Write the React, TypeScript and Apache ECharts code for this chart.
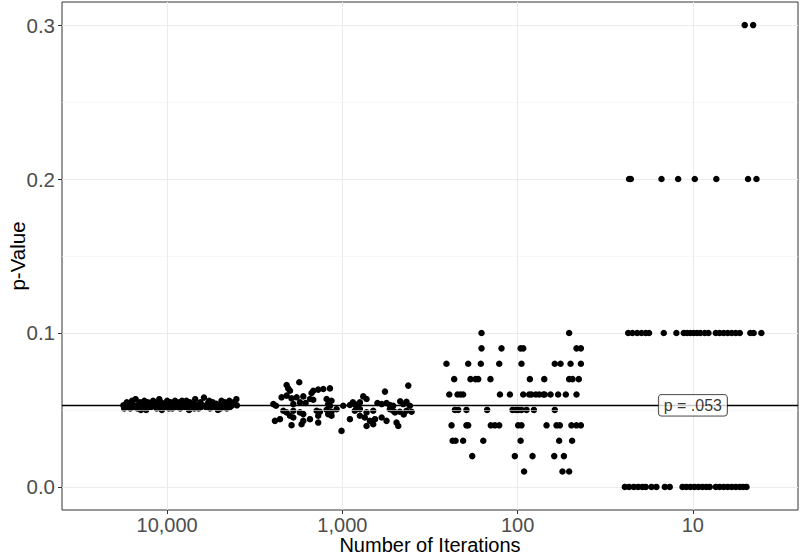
import React, { useEffect, useRef } from 'react';
import * as echarts from 'echarts';

// ---- Data ----
const categories = ['10,000', '1,000', '100', '10'];
const categoryPositions = [1, 2, 3, 4];
const yTicks = [0, 0.1, 0.2, 0.3];
const yMinorTicks = [0.05, 0.15, 0.25];
const referenceP = 0.053;
const referenceLabel = 'p = .053';

// jittered x (category index + jitter), p-value
const iter10000: number[][] = [
  [0.75, 0.053], [0.755, 0.051], [0.77, 0.055], [0.775, 0.052], [0.79, 0.054], [0.80, 0.056], [0.805, 0.052],
  [0.81, 0.053], [0.82, 0.057], [0.83, 0.051], [0.84, 0.054], [0.845, 0.055], [0.86, 0.052], [0.87, 0.056],
  [0.875, 0.053], [0.88, 0.050], [0.89, 0.055], [0.90, 0.054], [0.91, 0.052], [0.92, 0.056], [0.925, 0.053],
  [0.94, 0.051], [0.95, 0.055], [0.955, 0.057], [0.96, 0.053], [0.97, 0.050], [0.98, 0.054], [0.99, 0.052],
  [1.00, 0.056], [1.005, 0.053], [1.02, 0.055], [1.03, 0.051], [1.04, 0.054], [1.05, 0.052], [1.06, 0.053],
  [1.07, 0.055], [1.075, 0.051], [1.09, 0.054], [1.10, 0.052], [1.11, 0.056], [1.12, 0.053], [1.125, 0.050],
  [1.13, 0.055], [1.14, 0.052], [1.15, 0.054], [1.16, 0.057], [1.17, 0.053], [1.18, 0.051], [1.19, 0.055],
  [1.20, 0.053], [1.21, 0.058], [1.22, 0.052], [1.23, 0.054], [1.24, 0.056], [1.245, 0.051], [1.25, 0.053],
  [1.26, 0.055], [1.27, 0.052], [1.28, 0.054], [1.29, 0.050], [1.30, 0.053], [1.31, 0.056], [1.32, 0.052],
  [1.33, 0.055], [1.34, 0.051], [1.35, 0.054], [1.36, 0.052], [1.37, 0.053], [1.38, 0.055], [1.395, 0.057],
  [1.398, 0.053], [0.79, 0.051], [0.85, 0.050], [0.93, 0.055], [1.01, 0.051], [1.085, 0.056], [1.155, 0.051],
  [1.235, 0.053], [1.305, 0.051], [1.355, 0.056], [0.895, 0.052], [1.045, 0.056], [1.195, 0.052], [0.965, 0.055],
];

const iter1000: number[][] = [
  [1.754, 0.068], [1.682, 0.0662], [1.691, 0.064], [1.701, 0.0625], [2.376, 0.0658], [1.929, 0.064],
  [1.891, 0.0636], [1.862, 0.0632], [1.834, 0.0625], [1.824, 0.061], [2.243, 0.0619], [1.653, 0.0582],
  [1.682, 0.0593], [1.710, 0.0575], [1.739, 0.0582], [1.777, 0.0588], [1.815, 0.0571], [1.834, 0.0566],
  [2.119, 0.0588], [2.138, 0.0571], [1.910, 0.0571], [1.938, 0.056], [1.606, 0.0538], [1.621, 0.0527],
  [1.720, 0.0538], [1.758, 0.0549], [1.919, 0.0538], [1.929, 0.0527], [2.005, 0.0527], [2.043, 0.0532],
  [2.071, 0.0538], [2.081, 0.0516], [2.100, 0.0549], [2.224, 0.0538], [2.252, 0.0545], [2.271, 0.0532],
  [2.290, 0.0527], [2.347, 0.0538], [2.366, 0.0553], [2.385, 0.0527], [1.663, 0.0495], [1.682, 0.0484],
  [1.720, 0.0495], [1.758, 0.0484], [1.777, 0.0473], [1.853, 0.0495], [1.872, 0.0488], [1.910, 0.0501],
  [1.938, 0.0488], [1.967, 0.0505], [2.071, 0.0495], [2.100, 0.0505], [2.138, 0.0484], [2.176, 0.0495],
  [2.271, 0.0505], [2.290, 0.0495], [2.300, 0.0484], [2.328, 0.0488], [2.366, 0.0495], [2.395, 0.0488],
  [1.615, 0.0429], [1.644, 0.044], [1.701, 0.0462], [1.720, 0.0451], [1.777, 0.0429], [1.815, 0.044],
  [1.862, 0.0462], [1.919, 0.0473], [1.938, 0.0462], [2.043, 0.044], [2.100, 0.0462], [2.128, 0.0451],
  [2.157, 0.0429], [2.186, 0.044], [2.224, 0.0451], [2.252, 0.0429], [1.710, 0.0401], [1.767, 0.0407],
  [1.862, 0.0418], [2.309, 0.0418], [2.319, 0.0396], [1.995, 0.0364], [2.138, 0.0396], [2.176, 0.0407],
  [2.20, 0.0545], [2.33, 0.0556], [2.06, 0.0549], [1.79, 0.0545], [2.35, 0.0470],
];

const iter100: number[][] = [
  [2.794, 0.10], [3.294, 0.10],
  [2.794, 0.09], [2.908, 0.09], [3.017, 0.09], [3.032, 0.09], [3.336, 0.09], [3.361, 0.09],
  [2.594, 0.08], [2.718, 0.08], [2.790, 0.08], [2.895, 0.08], [3.022, 0.08], [3.212, 0.08], [3.245, 0.08],
  [3.302, 0.08], [3.361, 0.08],
  [2.638, 0.07], [2.731, 0.07], [2.760, 0.07], [2.775, 0.07], [2.845, 0.07], [3.070, 0.07], [3.152, 0.07],
  [3.294, 0.07], [3.313, 0.07], [3.349, 0.07],
  [2.610, 0.06], [2.657, 0.06], [2.674, 0.06], [2.689, 0.06], [2.899, 0.06], [2.956, 0.06], [3.032, 0.06],
  [3.066, 0.06], [3.079, 0.06], [3.104, 0.06], [3.123, 0.06], [3.146, 0.06], [3.155, 0.06], [3.188, 0.06],
  [3.231, 0.06], [3.275, 0.06], [3.336, 0.06],
  [2.642, 0.05], [2.661, 0.05], [2.708, 0.05], [2.826, 0.05], [2.971, 0.05], [2.990, 0.05], [3.003, 0.05],
  [3.022, 0.05], [3.051, 0.05], [3.093, 0.05], [3.212, 0.05],
  [2.623, 0.04], [2.708, 0.04], [2.718, 0.04], [2.847, 0.04], [2.870, 0.04], [2.895, 0.04], [3.003, 0.04],
  [3.022, 0.04], [3.165, 0.04], [3.222, 0.04], [3.241, 0.04], [3.307, 0.04], [3.336, 0.04], [3.361, 0.04],
  [2.629, 0.03], [2.646, 0.03], [2.689, 0.03], [2.804, 0.03], [3.017, 0.03], [3.237, 0.03], [3.311, 0.03],
  [2.741, 0.02], [2.984, 0.02], [3.085, 0.02], [3.209, 0.02], [3.264, 0.02],
  [3.037, 0.01], [3.256, 0.01], [3.294, 0.01],
];

const iter10: number[][] = [
  [4.296, 0.3], [4.344, 0.3],
  [3.636, 0.2], [3.646, 0.2], [3.821, 0.2], [3.916, 0.2], [4.011, 0.2], [4.134, 0.2], [4.315, 0.2], [4.363, 0.2],
  [3.631, 0.1], [3.655, 0.1], [3.682, 0.1], [3.707, 0.1], [3.731, 0.1], [3.750, 0.1], [3.834, 0.1], [3.906, 0.1],
  [3.948, 0.1], [3.967, 0.1], [3.986, 0.1], [4.005, 0.1], [4.024, 0.1], [4.043, 0.1], [4.068, 0.1], [4.089, 0.1],
  [4.131, 0.1], [4.153, 0.1], [4.176, 0.1], [4.199, 0.1], [4.222, 0.1], [4.245, 0.1], [4.268, 0.1], [4.328, 0.1],
  [4.347, 0.1], [4.391, 0.1],
  [3.612, 0], [3.636, 0], [3.663, 0], [3.688, 0], [3.712, 0], [3.731, 0], [3.764, 0], [3.792, 0], [3.840, 0],
  [3.868, 0], [3.941, 0], [3.963, 0], [3.986, 0], [4.009, 0], [4.032, 0], [4.055, 0], [4.077, 0], [4.096, 0],
  [4.131, 0], [4.153, 0], [4.176, 0], [4.199, 0], [4.222, 0], [4.245, 0], [4.268, 0], [4.287, 0], [4.306, 0],
];

const FONT = '"Liberation Sans", Arial, Helvetica, sans-serif';

export default function App() {
  const ref = useRef<HTMLDivElement>(null);

  useEffect(() => {
    if (!ref.current) return;
    const chart = echarts.init(ref.current, undefined, { renderer: 'svg' });
    const pointSeries = (name: string, data: number[][]) => ({
      name,
      type: 'scatter',
      data,
      symbol: 'circle',
      symbolSize: 6.5,
      itemStyle: { color: '#000000', opacity: 1 },
      z: 3,
      silent: true,
    });
    chart.setOption({
      animation: false,
      backgroundColor: '#ffffff',
      textStyle: { fontFamily: FONT },
      grid: {
        left: 62,
        right: 2,
        top: 2,
        bottom: 45,
        containLabel: false,
        outerBoundsMode: 'none',
        show: true,
        backgroundColor: '#ffffff',
        borderColor: '#333333',
        borderWidth: 1,
      },
      xAxis: {
        type: 'value',
        min: 0.4,
        max: 4.6,
        name: 'Number of Iterations',
        nameLocation: 'middle',
        nameGap: 26,
        nameMoveOverlap: false,
        nameTextStyle: { color: '#000000', fontSize: 20, lineHeight: 18, fontFamily: FONT },
        axisLine: { show: false, onZero: false },
        axisTick: {
          show: true,
          length: 4,
          customValues: categoryPositions,
          lineStyle: { color: '#333333', width: 1 },
        },
        axisLabel: {
          customValues: categoryPositions,
          color: '#4D4D4D',
          fontSize: 20,
          lineHeight: 18,
          margin: 6,
          fontFamily: FONT,
          formatter: (v: number) => categories[Math.round(v) - 1] ?? '',
        },
        splitLine: { show: true, lineStyle: { color: '#EBEBEB', width: 1 } },
      },
      yAxis: {
        type: 'value',
        min: -0.015,
        max: 0.315,
        name: 'p-Value',
        nameLocation: 'middle',
        nameGap: 34,
        nameMoveOverlap: false,
        nameRotate: 90,
        nameTextStyle: { color: '#000000', fontSize: 20.5, fontFamily: FONT },
        axisLine: { show: false, onZero: false },
        axisTick: {
          show: true,
          length: 4,
          customValues: yTicks,
          lineStyle: { color: '#333333', width: 1 },
        },
        axisLabel: {
          customValues: yTicks,
          color: '#4D4D4D',
          fontSize: 20.5,
          margin: 7,
          fontFamily: FONT,
          formatter: (v: number) => v.toFixed(1),
        },
        splitLine: { show: true, lineStyle: { color: '#EBEBEB', width: 1 } },
      },
      series: [
        {
          name: 'minorGrid',
          type: 'scatter',
          data: [],
          z: 1,
          silent: true,
          markLine: {
            silent: true,
            symbol: 'none',
            precision: 3,
            label: { show: false },
            lineStyle: { color: '#F3F3F3', width: 0.6, type: 'solid', opacity: 1 },
            data: yMinorTicks.map((v) => ({ yAxis: v })),
          },
        },
        pointSeries('10,000', iter10000),
        pointSeries('1,000', iter1000),
        pointSeries('100', iter100),
        pointSeries('10', iter10),
        {
          name: 'reference',
          type: 'scatter',
          data: [[categoryPositions[3], referenceP]],
          symbolSize: 0,
          z: 5,
          silent: true,
          label: {
            show: true,
            position: 'inside',
            formatter: referenceLabel,
            color: '#000000',
            fontSize: 16,
            fontFamily: FONT,
            backgroundColor: '#ffffff',
            borderColor: '#000000',
            borderWidth: 0.8,
            borderRadius: 3,
            padding: [3, 5, 2, 5],
          },
          markLine: {
            silent: true,
            symbol: 'none',
            precision: 4,
            z: 4,
            label: { show: false },
            lineStyle: { color: '#000000', width: 1.3, type: 'solid', opacity: 1 },
            data: [{ yAxis: referenceP }],
          },
        },
      ],
    });
    return () => chart.dispose();
  }, []);

  return <div ref={ref} style={{ width: 800, height: 555, position: 'absolute', left: 0, top: 0 }} />;
}
